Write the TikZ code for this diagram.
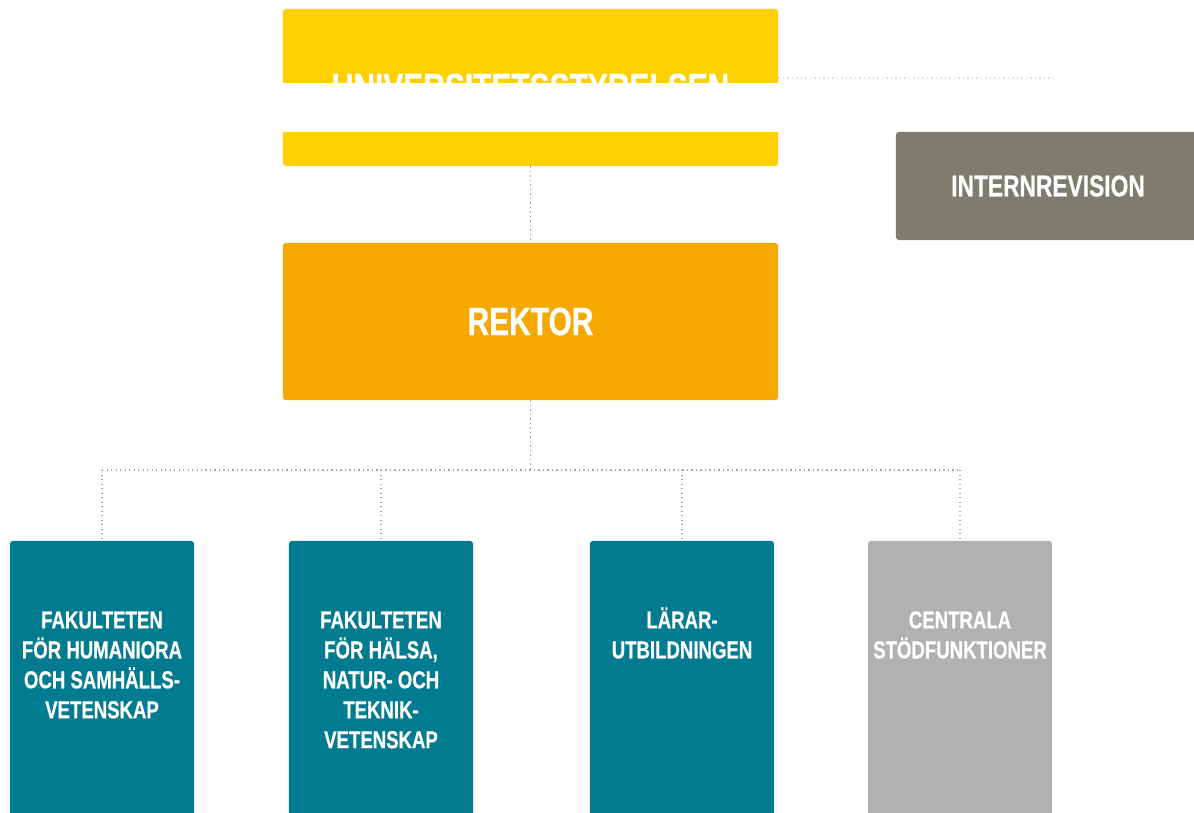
\documentclass[tikz,border=0pt]{standalone}
\usepackage{fontspec}
\newfontfamily\orgfont{Liberation Sans Bold}[FakeStretch=0.76, FakeBold=0.6]
\usetikzlibrary{positioning}

\definecolor{styrgul}{HTML}{FDD100}
\definecolor{rektorgul}{HTML}{F5A800}
\definecolor{fakblue}{HTML}{007B8F}
\definecolor{revgray}{HTML}{7E7D6D}
\definecolor{stodgray}{HTML}{B1B1B1}

\begin{document}
\begin{tikzpicture}[x=0.025cm, y=-0.025cm,
    orgbox/.style={rectangle, rounded corners=2pt, inner sep=0pt, text=white},
    bigtext/.style={font=\orgfont\fontsize{28}{33}\selectfont},
    fakbox/.style={orgbox, minimum width=4.6cm, minimum height=7.5cm},
    faktext/.style={inner sep=0pt, text=white, align=center,
        font=\orgfont\fontsize{17.4}{21.3}\selectfont},
    link/.style={gray!70, line width=1.1pt, dash pattern=on 1pt off 2.2pt}]
\useasboundingbox (0,0) rectangle (1194,812);
\clip (0,0) rectangle (1194,812);

% top of the chart
\node[orgbox, fill=styrgul, minimum width=12.375cm, minimum height=3.925cm, bigtext]
    (styrelse) at (530.5,87.5) {UNIVERSITETSSTYRELSEN};
\fill[white] (280,83) rectangle (782,132);
\coordinate (revend) at (1055,78);
\draw[link, gray!25] (styrelse.east |- revend) -- (revend);

\node[orgbox, fill=revgray, minimum width=7.6cm, minimum height=2.7cm,
    font=\orgfont\fontsize{21.3}{25}\selectfont]
    (intern) at (1048,186) {INTERNREVISION};

\node[orgbox, fill=rektorgul, minimum width=12.375cm, minimum height=3.925cm, bigtext]
    (rektor) at (530.5,321.5) {REKTOR};

\draw[link] (styrelse.south) -- (rektor.north);

% faculties and support
\node[fakbox, fill=fakblue] (hum) at (102,691) {};
\node[fakbox, fill=fakblue] (hnt) at (381,691) {};
\node[fakbox, fill=fakblue] (lar) at (682,691) {};
\node[fakbox, fill=stodgray] (stod) at (960,691) {};

\node[faktext, anchor=north] (humt) at ([yshift=-1.66cm]hum.north)
    {\strut FAKULTETEN\\FÖR HUMANIORA\\OCH SAMHÄLLS-\\VETENSKAP};
\node[faktext, anchor=north] (hntt) at ([yshift=-1.66cm]hnt.north)
    {\strut FAKULTETEN\\FÖR HÄLSA,\\NATUR- OCH\\TEKNIK-\\VETENSKAP};
\node[faktext, anchor=north] (lart) at ([yshift=-1.66cm]lar.north)
    {\strut LÄRAR-\\UTBILDNINGEN};
\node[faktext, anchor=north] (stodt) at ([yshift=-1.66cm]stod.north)
    {\strut CENTRALA\\STÖDFUNKTIONER};

\coordinate (split) at (530.5,470);
\draw[link] (rektor.south) -- (split);
\draw[link] (hum.north |- split) -- (stod.north |- split);
\foreach \b in {hum,hnt,lar,stod}
\draw[link] (\b.north |- split) -- (\b.north);

\end{tikzpicture}
\end{document}
